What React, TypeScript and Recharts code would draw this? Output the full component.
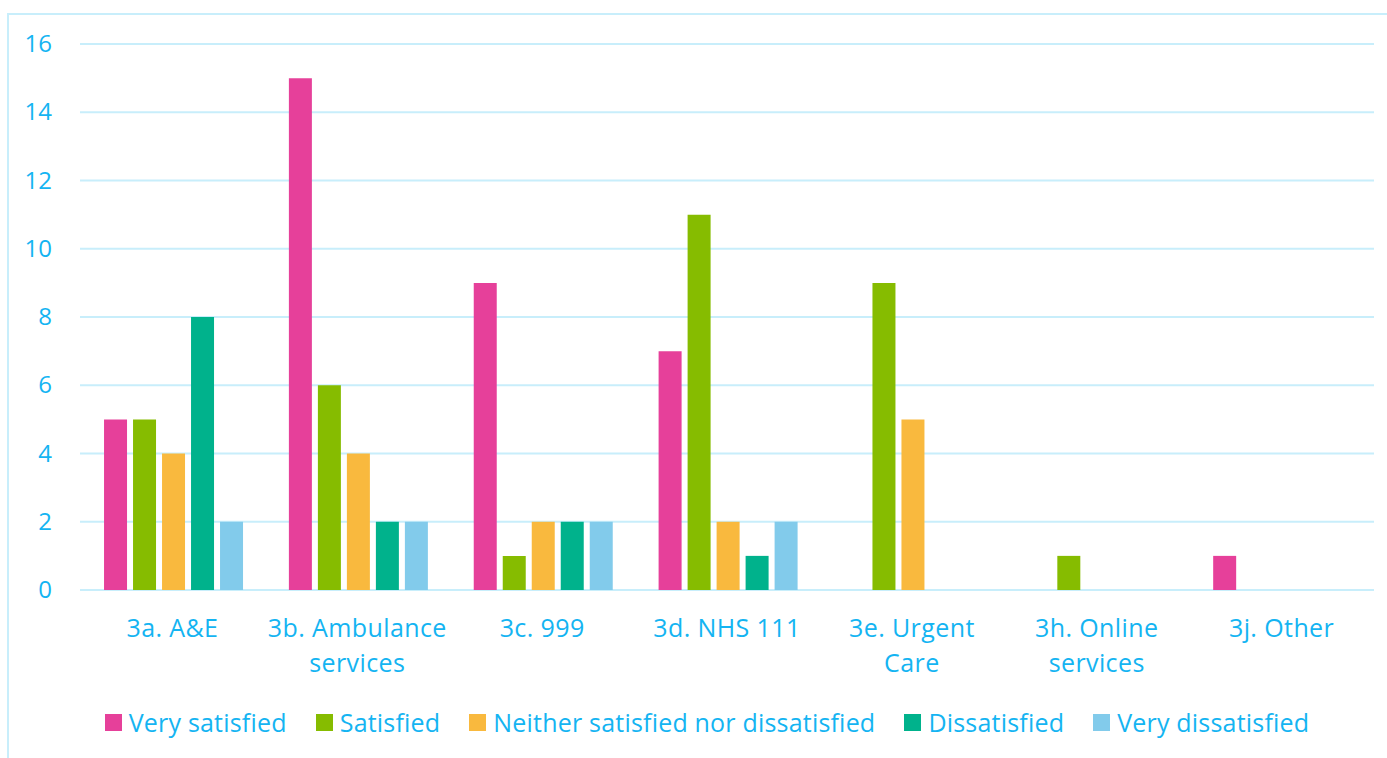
import { BarChart, Bar, XAxis, YAxis, CartesianGrid } from 'recharts'

const categories = [
    '3a. A&E',
    '3b. Ambulance\nservices',
    '3c. 999',
    '3d. NHS 111',
    '3e. Urgent\nCare',
    '3h. Online\nservices',
    '3j. Other'
]

const verySatisfied = [5, 15, 9, 7, 0, 0, 1]
const satisfied = [5, 6, 1, 11, 9, 1, 0]
const neither = [4, 4, 2, 2, 5, 0, 0]
const dissatisfied = [8, 2, 2, 1, 0, 0, 0]
const veryDissatisfied = [2, 2, 2, 2, 0, 0, 0]

const yTicks = [0, 2, 4, 6, 8, 10, 12, 14, 16]

const series = [
    { key: 'verySatisfied', name: 'Very satisfied', color: '#E6409A' },
    { key: 'satisfied', name: 'Satisfied', color: '#86BC00' },
    { key: 'neither', name: 'Neither satisfied nor dissatisfied', color: '#F9B93E' },
    { key: 'dissatisfied', name: 'Dissatisfied', color: '#00B28C' },
    { key: 'veryDissatisfied', name: 'Very dissatisfied', color: '#82CBEB' }
]

const data = categories.map((name, i) => ({
    name,
    verySatisfied: verySatisfied[i],
    satisfied: satisfied[i],
    neither: neither[i],
    dissatisfied: dissatisfied[i],
    veryDissatisfied: veryDissatisfied[i]
}))

const TEXT = '#14B4F2'
const GRID = '#C8EEFB'
const FONT = '"Open Sans", sans-serif'

function CategoryTick({ x, y, payload }: any) {
    const lines = String(payload.value).split('\n')
    return (
        <text x={x} y={y} textAnchor="middle" fill={TEXT} fontSize={25} letterSpacing={0.4} fontFamily={FONT}>
            {lines.map((line, i) => (
                <tspan key={i} x={x} dy={i === 0 ? 39 : 35}>{line}</tspan>
            ))}
        </text>
    )
}

function ValueTick({ x, y, payload }: any) {
    return (
        <text x={x - 20} y={y} dy={8} textAnchor="end" fill={TEXT} fontSize={24} fontFamily={FONT}>
            {payload.value}
        </text>
    )
}

export default function App() {
    return (
        <div style={{ position: 'absolute', left: 0, top: 0, width: 1387, height: 758, overflow: 'hidden', background: '#fff', fontFamily: FONT }}>
            {/* frame edges */}
            <div style={{ position: 'absolute', left: 7, top: 13, width: 1380, height: 745, borderTop: `2px solid ${GRID}`, borderLeft: `2px solid ${GRID}` }} />
            <div style={{ position: 'absolute', left: 0, top: 0 }}>
                <BarChart
                    width={1387}
                    height={758}
                    data={data}
                    margin={{ top: 44, right: 13, bottom: 0, left: 0 }}
                    barCategoryGap="13%"
                    barGap={6}
                >
                    <CartesianGrid vertical={false} stroke={GRID} strokeWidth={2} />
                    <XAxis
                        dataKey="name"
                        axisLine={false}
                        tickLine={false}
                        interval={0}
                        height={168}
                        tick={<CategoryTick />}
                    />
                    <YAxis
                        domain={[0, 16]}
                        ticks={yTicks}
                        axisLine={false}
                        tickLine={false}
                        width={80}
                        tick={<ValueTick />}
                    />
                    {series.map(s => (
                        <Bar key={s.key} dataKey={s.key} name={s.name} fill={s.color} isAnimationActive={false} />
                    ))}
                </BarChart>
            </div>
            <div
                style={{
                    position: 'absolute',
                    left: 7,
                    width: 1400,
                    top: 706,
                    display: 'flex',
                    justifyContent: 'center',
                    gap: 29,
                    color: TEXT,
                    fontSize: 25,
                    letterSpacing: 0.2,
                    lineHeight: '32px'
                }}
            >
                {series.map(s => (
                    <div key={s.key} style={{ display: 'flex', alignItems: 'center', gap: 7 }}>
                        <span style={{ width: 17, height: 17, background: s.color, display: 'inline-block' }} />
                        <span>{s.name}</span>
                    </div>
                ))}
            </div>
        </div>
    )
}
